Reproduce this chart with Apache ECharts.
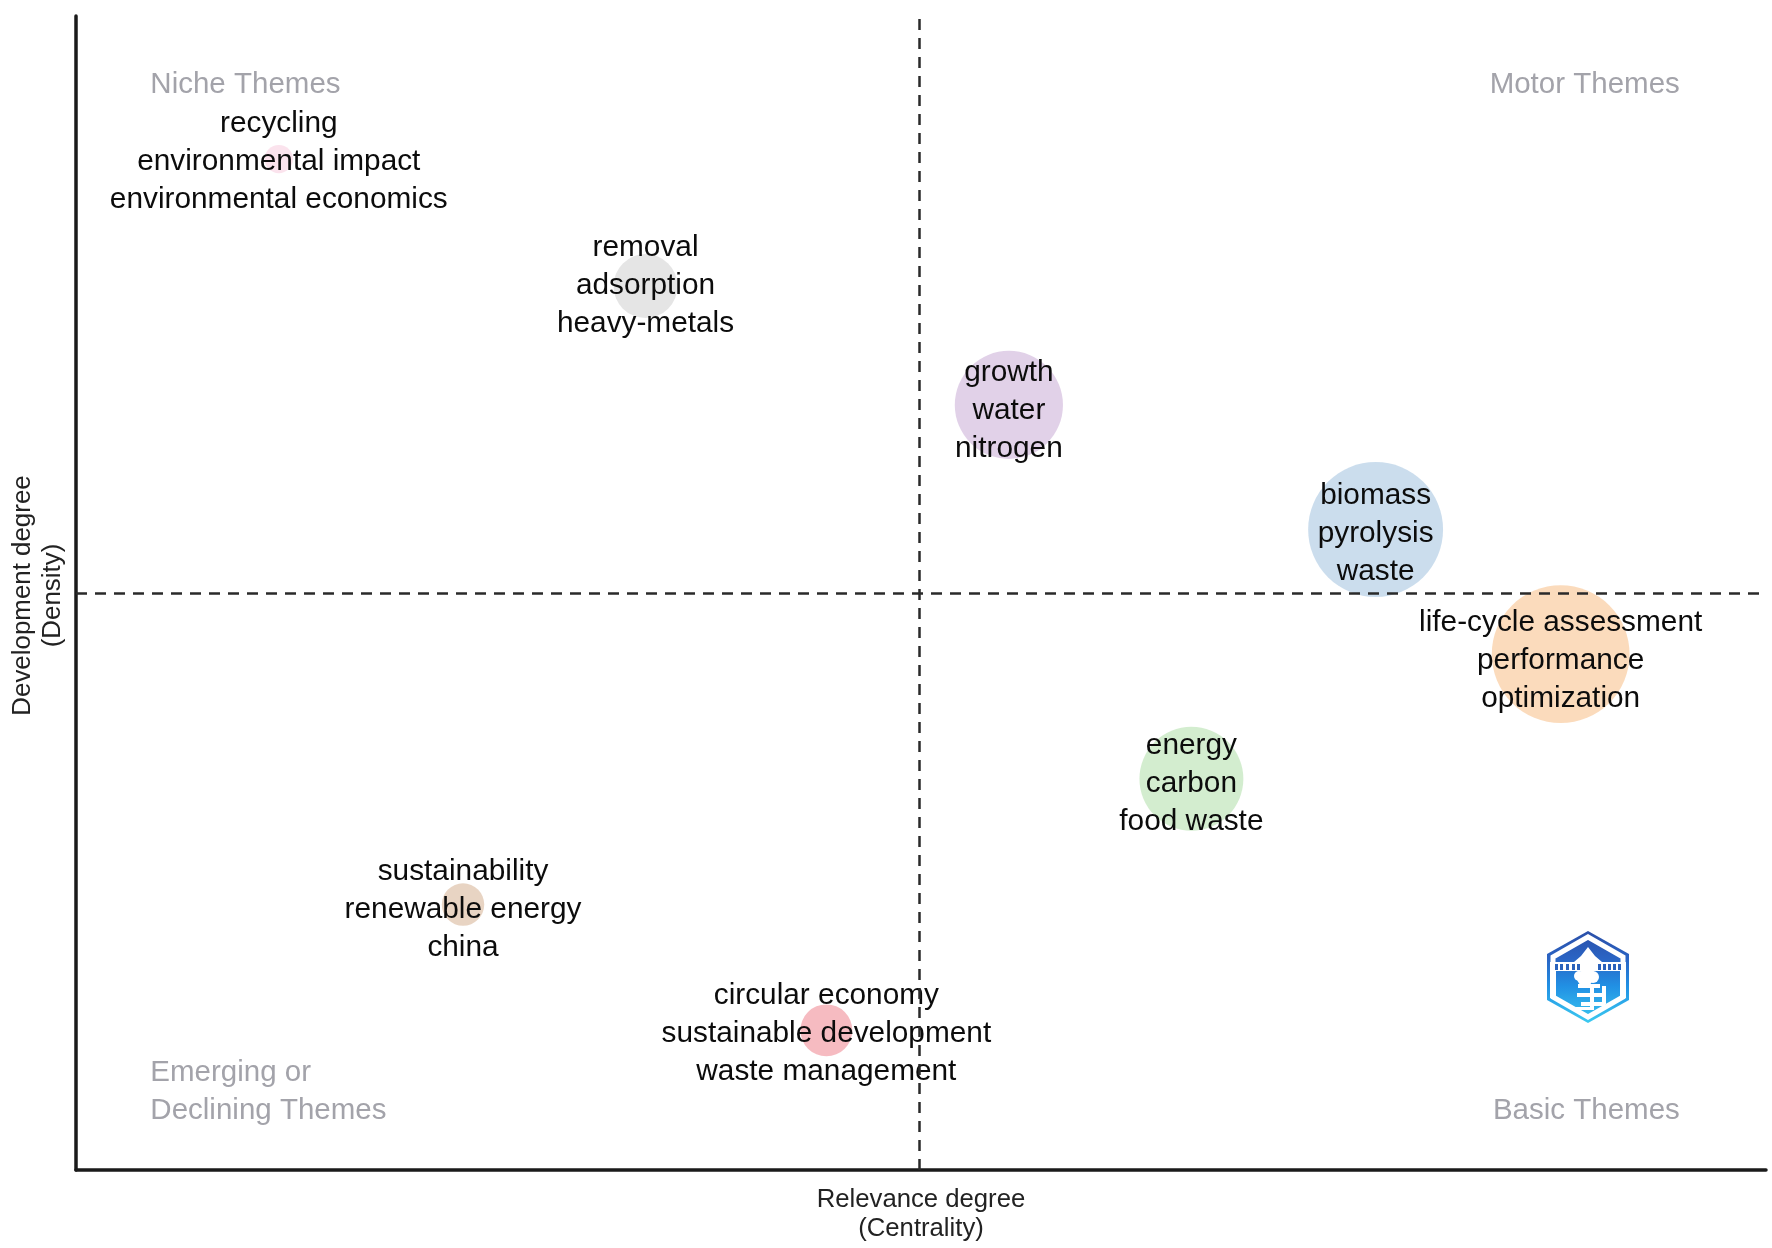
<!DOCTYPE html>
<html><head><meta charset="utf-8">
<style>html,body{margin:0;padding:0;background:#fff}#c{width:1772px;height:1248px}</style>
<script src="https://cdn.jsdelivr.net/npm/echarts@6/dist/echarts.min.js"></script>
</head><body><div id="c"></div>
<script>
const themes = ["recycling\nenvironmental impact\nenvironmental economics","removal\nadsorption\nheavy-metals","growth\nwater\nnitrogen","biomass\npyrolysis\nwaste","life-cycle assessment\nperformance\noptimization","energy\ncarbon\nfood waste","sustainability\nrenewable energy\nchina","circular economy\nsustainable development\nwaste management"];
const centrality = [12.0,33.7,55.2,76.9,87.85,66.0,22.9,44.4];
const density = [87.6,76.6,66.3,55.5,44.7,33.9,23.0,12.1];
const frequency = [8,41,117,182,190,108,18,27];
const medianCentrality = 49.9;
const medianDensity = 50.0;
const quadrantNames = ["Niche Themes","Motor Themes","Emerging or\nDeclining Themes","Basic Themes"];
const quadrantX = [4.4,94.9,4.4,94.9];
const quadrantY = [94.0,94.0,6.75,5.15];
const xTitle = "Relevance degree\n(Centrality)";
const yTitle = "Development degree\n(Density)";

const palette = ["rgba(250,222,234,.85)","rgba(226,226,226,.9)","rgba(222,204,230,.9)","rgba(199,218,235,.92)","rgba(251,216,182,.92)","rgba(207,235,203,.92)","rgba(230,207,188,.9)","rgba(245,180,186,.9)"];
const labelShift = [2.3,0,5.6,4.5,6.2,5,5,3];
const FONT = '"Liberation Sans", Arial, sans-serif';
const chart = echarts.init(document.getElementById('c'), null, {renderer:'canvas'});
const hx = (cx,cy,w,h)=>[[cx,cy-h],[cx+w,cy-h/2],[cx+w,cy+h/2],[cx,cy+h],[cx-w,cy+h/2],[cx-w,cy-h/2]];
const logoGrad = new echarts.graphic.LinearGradient(0,0,0,1,[{offset:0,color:'#2b4fa8'},{offset:.3,color:'#2a64c4'},{offset:.6,color:'#2190e4'},{offset:1,color:'#3ccaf0'}]);
const CX=1588, CY=977, W='#fff';
const R=(x,y,w,h,f)=>({type:'rect',shape:{x:CX+x,y:CY+y,width:w,height:h},style:{fill:f||W}});
const C=(x,y,r)=>({type:'circle',shape:{cx:CX+x,cy:CY+y,r},style:{fill:W}});
const bandMarks=[-33,-28,-22,-16,-11,10,15,20,25,30].map(x=>R(x,-13,3,6,'#2a62bc'));
chart.setOption({
  animation:false,
  backgroundColor:'#fff',
  grid:{left:76,right:6,top:16,bottom:78,containLabel:false,outerBoundsMode:'none'},
  xAxis:{type:'value',min:0,max:100,name:xTitle,nameLocation:'middle',nameGap:15,
    nameTextStyle:{fontFamily:FONT,fontSize:25.7,color:'#222',lineHeight:29,verticalAlign:'top'},
    axisLine:{show:true,onZero:false,lineStyle:{color:'#1a1a1a',width:3.5}},axisTick:{show:false},axisLabel:{show:false},splitLine:{show:false}},
  yAxis:{type:'value',min:0,max:100,name:yTitle,nameLocation:'middle',nameGap:8.5,
    nameTextStyle:{fontFamily:FONT,fontSize:25.9,color:'#222',lineHeight:30,padding:[0,5,0,0]},
    axisLine:{show:true,onZero:false,lineStyle:{color:'#1a1a1a',width:3.5}},axisTick:{show:false},axisLabel:{show:false},splitLine:{show:false}},
  series:[
    {type:'scatter',z:3,
      data:themes.map((t,i)=>({name:t,value:[centrality[i],density[i],frequency[i]],itemStyle:{color:palette[i],opacity:1}})),
      symbolSize:v=>10*Math.sqrt(v[2]),
      itemStyle:{opacity:1},
      label:{show:true,position:'inside',formatter:p=>p.name,fontFamily:FONT,fontSize:29.8,lineHeight:38,color:'#0c0c0c',opacity:1,align:'center',verticalAlign:'middle'},
      labelLayout:p=>({dy:labelShift[p.dataIndex],hideOverlap:false}),
      emphasis:{disabled:true},
      markLine:{silent:true,symbol:'none',animation:false,label:{show:false},
        lineStyle:{color:'#2a2a2a',width:2.5,type:[11,8],opacity:1},
        data:[{xAxis:medianCentrality},{yAxis:medianDensity}]}
    },
    {type:'scatter',z:4,symbolSize:0,silent:true,itemStyle:{opacity:1},
      data:quadrantNames.map((t,i)=>({name:t,value:[quadrantX[i],quadrantY[i]],
        label:{align:i%2?'right':'left'}})),
      label:{show:true,position:'inside',formatter:p=>p.name,fontFamily:FONT,fontSize:29.5,lineHeight:38,color:'#a3a3aa',verticalAlign:'middle'},
      labelLayout:{hideOverlap:false}
    }
  ],
  graphic:[{type:'group',silent:true,z:10,children:[
    {type:'polygon',shape:{points:hx(CX,CY,41,46)},style:{fill:logoGrad}},
    {type:'polygon',shape:{points:hx(CX,CY,35,40)},style:{fill:'none',stroke:W,lineWidth:5}},
    R(-38,-15,76,9),
    ...bandMarks,
    R(-38,-7,6,28), R(32,-7,6,28),
    {type:'polygon',shape:{points:[[CX,CY-30],[CX+7,CY-21],[CX+14,CY-15],[CX-14,CY-15],[CX-7,CY-21]]},style:{fill:W}},
    C(-3,1,8), C(-9,-1,5), C(5,0,6), C(1,-4,5),
    R(-10,7,22,4), R(2,7,4,26), R(-11,16,28,4), R(-7,25,24,4), R(-12,30,18,3), R(14,9,4,18)
  ]}]
});
</script></body></html>
